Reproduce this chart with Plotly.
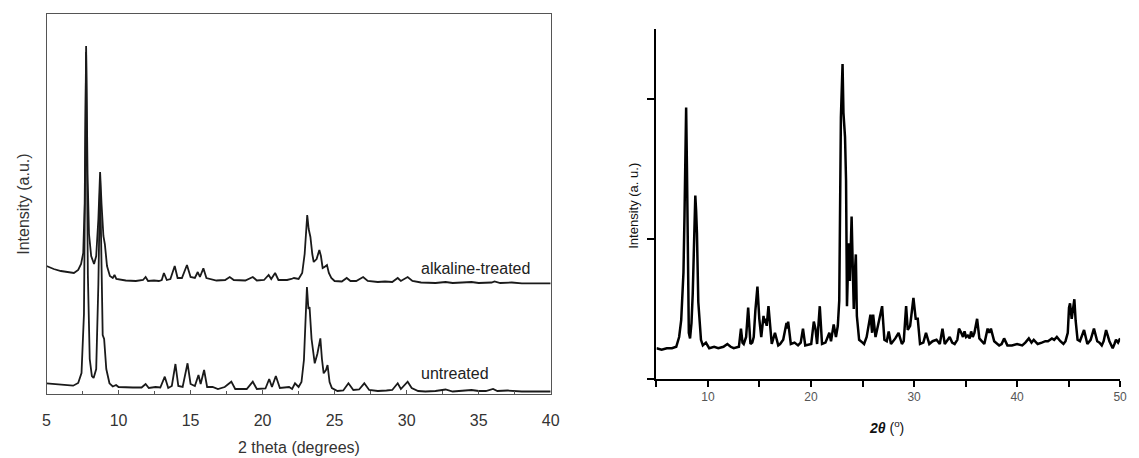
import plotly.graph_objects as go

# ---------------- data ----------------
# Left panel: 2 theta (degrees) vs intensity (a.u.)
alk_two_theta = [5.0, 5.5, 6.0, 6.5, 6.9, 7.2, 7.4, 7.55, 7.65, 7.75, 7.85, 7.95, 8.1, 8.3, 8.45,
                 8.6, 8.72, 8.82, 8.95, 9.05, 9.2, 9.4, 9.6, 9.72, 9.85, 10.5, 11.2, 11.7, 11.88, 12.05,
                 12.46, 12.8, 13.0, 13.15, 13.35, 13.6, 13.9, 14.1, 14.4, 14.75, 15.0, 15.3, 15.5, 15.65, 15.89,
                 16.1, 16.46, 16.8, 17.4, 17.72, 18.0, 18.8, 19.32, 19.6, 20.1, 20.42, 20.6, 20.87, 21.1, 21.7,
                 22.0, 22.18, 22.5, 22.75, 22.92, 23.1, 23.2, 23.32, 23.45, 23.55, 23.75, 23.94, 24.05, 24.17, 24.3,
                 24.47, 24.6, 24.77, 25.0, 25.5, 25.84, 26.1, 26.5, 26.98, 27.3, 28.0, 28.5, 29.0, 29.38, 29.6,
                 30.07, 30.4, 31.0, 32.0, 32.7, 33.2, 34.5, 35.0, 35.9, 36.1, 36.5, 37.3, 38.0, 40.0]
alk_intensity = [128, 125, 123, 121.5, 121, 124, 130, 141, 190, 348, 220, 160, 138, 130, 138,
                 175, 222, 190, 158, 150, 128, 118, 116, 119, 115, 113.5, 113, 114, 117, 113,
                 113.5, 113, 114, 121, 114, 115, 128, 116, 116, 129, 117, 116, 122, 117, 125.7,
                 116, 115, 113.5, 114, 117, 114, 113.5, 117, 113.5, 114, 119, 115, 121, 114, 114,
                 115, 116, 115, 121, 140, 179, 165, 157, 140, 132, 135, 144, 138, 126, 127,
                 129, 121, 116, 113, 112.5, 116, 113, 113, 117, 113, 112, 112.5, 112, 116, 113,
                 117, 113, 111.5, 111, 112, 111, 112, 111, 111.5, 112.5, 111, 111.5, 110.7, 110.7]

unt_two_theta = [5.0, 5.6, 6.2, 6.85, 7.2, 7.43, 7.6, 7.75, 7.87, 8.0, 8.15, 8.27, 8.45, 8.6, 8.72,
                 8.8, 8.9, 9.0, 9.15, 9.37, 9.6, 9.83, 10.0, 11.0, 11.6, 11.88, 12.1, 12.57, 12.9, 13.21,
                 13.45, 13.7, 13.95, 14.15, 14.45, 14.79, 15.0, 15.3, 15.55, 15.7, 15.94, 16.15, 16.53, 16.9, 17.37,
                 17.83, 18.1, 18.9, 19.32, 19.6, 20.2, 20.46, 20.65, 20.92, 21.2, 21.84, 22.05, 22.25, 22.5, 22.7,
                 22.87, 23.0, 23.08, 23.18, 23.26, 23.4, 23.62, 23.8, 24.01, 24.12, 24.24, 24.4, 24.51, 24.65, 24.81,
                 25.2, 25.6, 25.96, 26.3, 26.7, 27.06, 27.4, 28.0, 28.6, 29.0, 29.38, 29.6, 30.07, 30.35, 30.8,
                 31.3, 32.0, 32.7, 33.2, 34.0, 34.5, 35.0, 35.5, 36.0, 36.3, 37.0, 37.4, 38.0, 40.0]
unt_intensity = [10.7, 10, 9, 8.3, 11, 21, 80, 342, 120, 35, 18, 16, 25, 110, 215,
                 140, 59, 55, 25, 10.7, 7.5, 9, 7, 6.5, 6.5, 10, 6, 7, 6.5, 17.3,
                 6, 8, 30, 8, 7, 30.7, 10, 8, 19, 10, 24, 7, 7, 5, 7,
                 12.3, 5, 5, 12.3, 5, 5.5, 15, 7, 18, 6, 7, 5, 10.7, 7, 12,
                 34, 80, 107, 85, 87, 55, 30.7, 40, 55.7, 35, 20.7, 24, 29, 12, 6,
                 3, 3.5, 10.7, 4, 4.5, 10.7, 4, 3, 3.5, 4, 10.7, 5, 12.3, 6, 3,
                 2.5, 3, 4.5, 2.5, 3, 4, 3, 3, 5, 3, 3.5, 3, 2.5, 2.5]

# Right panel: 2 theta (deg) vs intensity (a.u.)
r_two_theta = [5.0, 5.5, 6.0, 6.5, 6.92, 7.2, 7.4, 7.62, 7.72, 7.8, 7.88, 7.96, 8.04, 8.14, 8.26,
               8.4, 8.52, 8.61, 8.68, 8.77, 8.85, 8.93, 9.06, 9.2, 9.32, 9.5, 9.8, 10.12, 10.6, 11.0,
               11.5, 11.88, 12.2, 12.5, 13.0, 13.2, 13.35, 13.47, 13.7, 13.9, 14.0, 14.12, 14.3, 14.44, 14.6,
               14.8, 14.98, 15.17, 15.39, 15.47, 15.55, 15.7, 15.87, 16.03, 16.19, 16.5, 16.82, 17.0, 17.3, 17.62,
               17.7, 17.78, 18.04, 18.4, 18.74, 19.0, 19.22, 19.44, 20.02, 20.27, 20.43, 20.59, 20.85, 21.07, 21.4,
               21.62, 21.78, 21.94, 22.2, 22.42, 22.6, 22.74, 22.9, 23.06, 23.15, 23.3, 23.4, 23.49, 23.58, 23.65,
               23.77, 23.86, 23.94, 24.05, 24.15, 24.25, 24.35, 24.45, 24.55, 24.67, 25.0, 25.15, 25.4, 25.6, 25.77,
               25.93, 26.03, 26.26, 26.58, 26.9, 27.12, 27.35, 27.54, 27.76, 28.18, 28.5, 28.82, 29.0, 29.23, 29.39,
               29.62, 29.94, 30.16, 30.36, 30.58, 30.9, 31.16, 31.48, 31.8, 32.18, 32.5, 32.76, 32.98, 33.2, 33.46,
               33.7, 33.94, 34.2, 34.36, 34.58, 34.75, 34.9, 35.05, 35.22, 35.4, 35.54, 35.7, 35.86, 36.12, 36.34,
               36.6, 36.82, 37.14, 37.3, 37.46, 37.78, 38.26, 38.5, 38.74, 39.06, 39.5, 40.0, 40.5, 40.8, 41.14,
               41.4, 41.62, 42.0, 42.4, 42.74, 43.0, 43.38, 43.6, 43.86, 44.2, 44.5, 44.7, 44.92, 45.04, 45.14,
               45.3, 45.46, 45.56, 45.68, 45.87, 46.1, 46.26, 46.5, 46.82, 47.14, 47.46, 47.78, 48.0, 48.22, 48.4,
               48.64, 48.96, 49.28, 49.45, 49.6, 49.8, 50.0]
r_intensity = [0.22, 0.21, 0.22, 0.22, 0.23, 0.3, 0.42, 0.76, 1.16, 1.6, 1.94, 1.5, 1.04, 0.33, 0.29,
               0.4, 0.61, 0.92, 1.18, 1.31, 1.2, 1.04, 0.55, 0.35, 0.28, 0.24, 0.26, 0.22, 0.23, 0.22,
               0.23, 0.25, 0.23, 0.22, 0.23, 0.36, 0.26, 0.25, 0.3, 0.51, 0.35, 0.25, 0.26, 0.3, 0.49,
               0.66, 0.43, 0.3, 0.45, 0.4, 0.43, 0.38, 0.52, 0.38, 0.25, 0.33, 0.24, 0.25, 0.28, 0.4,
               0.36, 0.41, 0.25, 0.26, 0.24, 0.26, 0.36, 0.24, 0.25, 0.41, 0.36, 0.25, 0.52, 0.25, 0.26,
               0.3, 0.33, 0.27, 0.39, 0.3, 0.38, 0.56, 1.87, 2.25, 1.9, 1.73, 1.42, 0.52, 0.85, 0.97,
               0.7, 1.0, 1.16, 0.8, 0.5, 0.75, 0.89, 0.45, 0.35, 0.28, 0.26, 0.25, 0.3, 0.4, 0.46,
               0.33, 0.46, 0.3, 0.41, 0.52, 0.28, 0.27, 0.34, 0.25, 0.29, 0.33, 0.25, 0.27, 0.52, 0.35,
               0.38, 0.58, 0.43, 0.43, 0.25, 0.26, 0.33, 0.25, 0.27, 0.28, 0.25, 0.36, 0.25, 0.27, 0.3,
               0.26, 0.25, 0.28, 0.36, 0.33, 0.3, 0.34, 0.3, 0.31, 0.29, 0.34, 0.3, 0.33, 0.43, 0.29,
               0.27, 0.25, 0.36, 0.33, 0.36, 0.27, 0.24, 0.25, 0.29, 0.24, 0.24, 0.25, 0.24, 0.26, 0.29,
               0.26, 0.28, 0.25, 0.26, 0.27, 0.27, 0.29, 0.28, 0.3, 0.27, 0.25, 0.27, 0.33, 0.51, 0.54,
               0.43, 0.54, 0.57, 0.42, 0.28, 0.27, 0.3, 0.35, 0.25, 0.28, 0.36, 0.27, 0.26, 0.24, 0.27,
               0.35, 0.27, 0.22, 0.25, 0.28, 0.26, 0.29]

left_tickvals = [5, 10, 15, 20, 25, 30, 35, 40]
right_tickvals = [10, 20, 30, 40, 50]
right_ticktext = ["10", "20", "30", "40", "50"]
series_labels = ["alkaline-treated", "untreated"]

# ---------------- figure ----------------
W, H = 1139, 458


def px(x):
    return x / W


def py(y):
    return 1 - y / H


fig = go.Figure()

fig.add_trace(go.Scatter(x=alk_two_theta, y=alk_intensity, mode="lines",
                         line=dict(color="#1a1a1a", width=1.8), xaxis="x", yaxis="y",
                         showlegend=False, name=series_labels[0]))
fig.add_trace(go.Scatter(x=unt_two_theta, y=unt_intensity, mode="lines",
                         line=dict(color="#1a1a1a", width=1.8), xaxis="x", yaxis="y",
                         showlegend=False, name=series_labels[1]))
fig.add_trace(go.Scatter(x=r_two_theta, y=r_intensity, mode="lines",
                         line=dict(color="#000000", width=2.5), xaxis="x2", yaxis="y2",
                         showlegend=False))

left_font = "Liberation Sans, Arial, sans-serif"

fig.update_layout(
    width=W, height=H,
    margin=dict(l=0, r=0, t=0, b=0),
    paper_bgcolor="white", plot_bgcolor="white",
    font=dict(family=left_font, color="#333"),
    xaxis=dict(domain=[px(43), px(553)], range=[5, 40], tickvals=left_tickvals,
               ticks="inside", ticklen=4, tickcolor="#555", tickwidth=1,
               minor=dict(dtick=2.5, tick0=5, ticks="inside", ticklen=3, tickcolor="#555"),
               showline=True, mirror=True, linecolor="#555", linewidth=1.3,
               showgrid=False, zeroline=False, ticklabelstandoff=12,
               tickfont=dict(size=16, color="#333", family=left_font), anchor="y"),
    yaxis=dict(domain=[py(394), py(14)], range=[0, 380], showticklabels=False, ticks="",
               showline=True, mirror=True, linecolor="#555", linewidth=1.3,
               showgrid=False, zeroline=False, anchor="x"),
    xaxis2=dict(domain=[px(660), px(1129)], range=[5, 50], tickvals=right_tickvals,
                ticktext=right_ticktext, ticks="outside", ticklen=6, tickwidth=1.5,
                tickcolor="#000",
                minor=dict(dtick=5, tick0=5, ticks="outside", ticklen=6, tickwidth=1.5,
                           tickcolor="#000"),
                showline=True, linecolor="#000", linewidth=2,
                showgrid=False, zeroline=False, anchor="y2",
                tickfont=dict(size=12, color="#555", family=left_font)),
    yaxis2=dict(domain=[py(379), py(29)], range=[0, 2.5], tickvals=[0, 1, 2],
                showticklabels=False, ticks="outside", ticklen=7, tickwidth=1.5,
                tickcolor="#000", showline=True, linecolor="#000", linewidth=2,
                showgrid=False, zeroline=False, anchor="x2"),
)

annotations = [
    dict(text="Intensity (a.u.)", x=px(20), y=py(204), xref="paper", yref="paper",
         xanchor="center", yanchor="middle",
         textangle=-90, showarrow=False, font=dict(size=16, color="#333")),
    dict(text="2 theta (degrees)", x=px(298), y=py(447), xref="paper", yref="paper",
         xanchor="center", yanchor="middle",
         showarrow=False, font=dict(size=16, color="#333")),
    dict(text=series_labels[0], x=30.87, y=126, xref="x", yref="y", xanchor="left",
         yanchor="middle", showarrow=False, font=dict(size=16, color="#222")),
    dict(text=series_labels[1], x=30.87, y=21, xref="x", yref="y", xanchor="left",
         yanchor="middle", showarrow=False, font=dict(size=16, color="#222")),
    dict(text="Intensity (a. u.)", x=px(636), y=py(206), xref="paper", yref="paper",
         xanchor="center", yanchor="middle",
         textangle=-90, showarrow=False, font=dict(size=13, color="#111")),
    dict(text="<b><i>2θ</i></b> (<sup>o</sup>)", x=px(893), y=py(427), xref="paper", yref="paper",
         xanchor="center", yanchor="middle",
         showarrow=False, font=dict(size=14, color="#111")),
]
fig.update_layout(annotations=annotations)

fig.write_html("out.html")
